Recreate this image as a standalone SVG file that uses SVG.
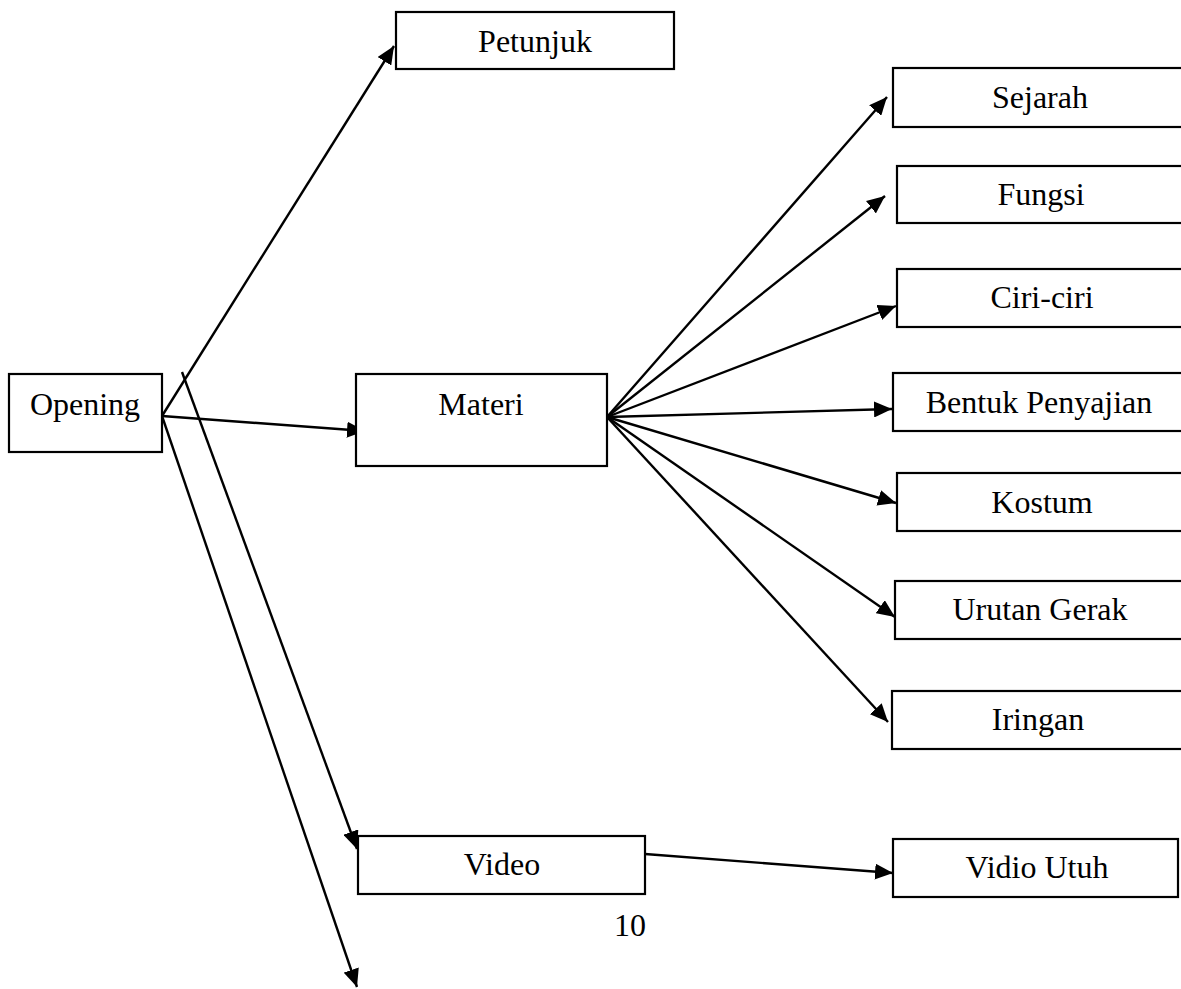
<svg xmlns="http://www.w3.org/2000/svg" width="1181" height="989" viewBox="0 0 1181 989">
<style>
.box{fill:#fff;stroke:#000;stroke-width:2.2}
.lbl{font-family:"Liberation Serif","Times New Roman",serif;font-size:32px;fill:#000;text-anchor:middle}
.con{stroke:#000;stroke-width:2.4;fill:none;marker-end:url(#arr)}
</style>
<defs>
<marker id="arr" markerUnits="userSpaceOnUse" markerWidth="19" markerHeight="16" refX="18" refY="8" orient="auto">
<path d="M0,0 L18,8 L0,16 z" fill="#000"/>
</marker>
</defs>
<rect width="1181" height="989" fill="#fff"/>
<g id="connectors">
<line class="con" x1="162" y1="416" x2="394" y2="46"/>
<line class="con" x1="162" y1="416" x2="365" y2="431"/>
<line class="con" x1="162" y1="416" x2="357" y2="987"/>
<line class="con" x1="182" y1="372" x2="357" y2="849"/>
<line class="con" x1="607" y1="417" x2="887" y2="97"/>
<line class="con" x1="607" y1="417" x2="885" y2="196"/>
<line class="con" x1="607" y1="417" x2="896" y2="306"/>
<line class="con" x1="607" y1="417" x2="892" y2="409"/>
<line class="con" x1="607" y1="417" x2="896" y2="503"/>
<line class="con" x1="607" y1="417" x2="895" y2="617"/>
<line class="con" x1="607" y1="417" x2="888" y2="722"/>
<line class="con" x1="645" y1="854" x2="893" y2="873"/>
</g>
<g id="opening"><rect class="box" x="9" y="374" width="153" height="78"/><text class="lbl" x="85" y="415">Opening</text></g>
<g id="petunjuk"><rect class="box" x="396" y="12" width="278" height="57"/><text class="lbl" x="535" y="52">Petunjuk</text></g>
<g id="materi"><rect class="box" x="356" y="374" width="251" height="92"/><text class="lbl" x="481" y="415">Materi</text></g>
<g id="video"><rect class="box" x="358" y="836" width="287" height="58"/><text class="lbl" x="502" y="875">Video</text></g>
<g id="sejarah"><rect class="box" x="893" y="68" width="300" height="59"/><text class="lbl" x="1040" y="108">Sejarah</text></g>
<g id="fungsi"><rect class="box" x="897" y="166" width="300" height="57"/><text class="lbl" x="1041" y="205">Fungsi</text></g>
<g id="ciri-ciri"><rect class="box" x="897" y="269" width="300" height="58"/><text class="lbl" x="1042" y="308">Ciri-ciri</text></g>
<g id="bentuk-penyajian"><rect class="box" x="893" y="373" width="300" height="58"/><text class="lbl" x="1039" y="413">Bentuk Penyajian</text></g>
<g id="kostum"><rect class="box" x="897" y="473" width="300" height="58"/><text class="lbl" x="1042" y="513">Kostum</text></g>
<g id="urutan-gerak"><rect class="box" x="895" y="581" width="300" height="58"/><text class="lbl" x="1040" y="620">Urutan Gerak</text></g>
<g id="iringan"><rect class="box" x="892" y="691" width="300" height="58"/><text class="lbl" x="1038" y="730">Iringan</text></g>
<g id="vidio-utuh"><rect class="box" x="893" y="839" width="285" height="58"/><text class="lbl" x="1037" y="878">Vidio Utuh</text></g>
<text class="lbl" x="630" y="936">10</text>
</svg>
